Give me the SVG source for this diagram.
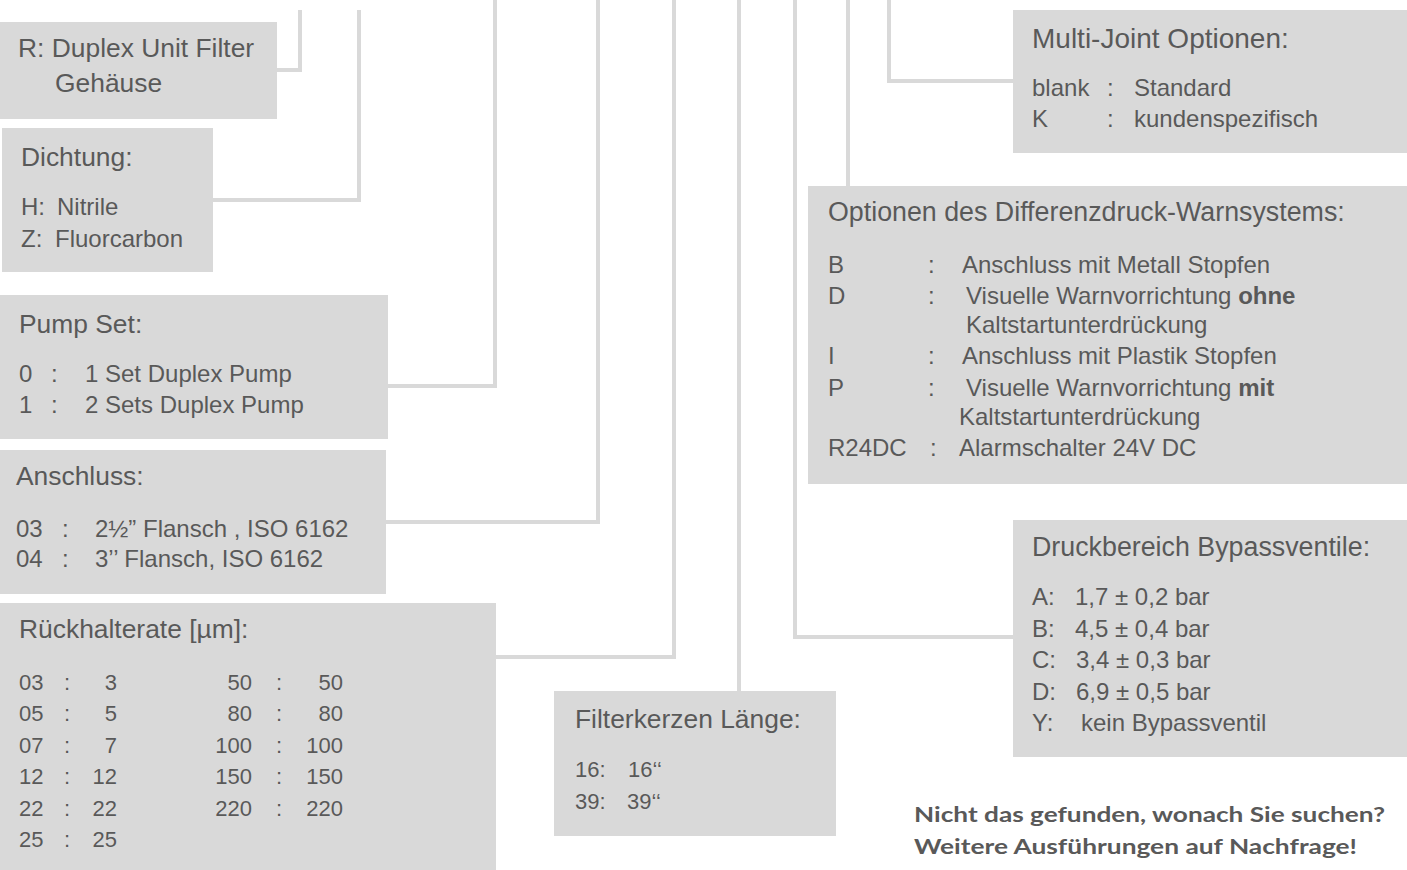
<svg xmlns="http://www.w3.org/2000/svg" width="1407" height="870" viewBox="0 0 1407 870">
<style>
.bx{fill:#d9d9d9}
.cn{fill:none;stroke:#d9d9d9;stroke-width:4}
text{font-family:"Liberation Sans",Arial,sans-serif;fill:#595959}
.h{font-size:26.4px}
.t{font-size:24px}
.s{font-size:22px}
.e{text-anchor:end}
.b{font-weight:bold}
.nt{font-family:Lato,"Open Sans",sans-serif;font-weight:bold;font-size:21px}
</style>
<rect width="1407" height="870" fill="#ffffff"/>
<g id="connectors">
<path class="cn" d="M300,10 V70 H277"/>
<path class="cn" d="M359,10 V200 H213"/>
<path class="cn" d="M495,0 V386 H388"/>
<path class="cn" d="M598,0 V522 H386"/>
<path class="cn" d="M674,0 V657 H496"/>
<path class="cn" d="M739,0 V691"/>
<path class="cn" d="M795,0 V637 H1013"/>
<path class="cn" d="M848,0 V186"/>
<path class="cn" d="M889,0 V81 H1013"/>
</g>
<g id="node-gehaeuse">
<rect class="bx" x="0" y="22" width="277" height="97"/>
<text class="h" x="18" y="57">R: Duplex Unit Filter</text>
<text class="h" x="55" y="92">Gehäuse</text>
</g>
<g id="node-dichtung">
<rect class="bx" x="2" y="128" width="211" height="144"/>
<text class="h" x="21" y="166">Dichtung:</text>
<text class="t" x="21" y="215">H:</text><text class="t" x="57" y="215">Nitrile</text>
<text class="t" x="21" y="247">Z:</text><text class="t" x="55" y="247">Fluorcarbon</text>
</g>
<g id="node-pumpset">
<rect class="bx" x="0" y="295" width="388" height="144"/>
<text class="h" x="19" y="333">Pump Set:</text>
<text class="t" x="19" y="382">0</text><text class="t" x="51" y="382">:</text><text class="t" x="85" y="382">1 Set Duplex Pump</text>
<text class="t" x="19" y="413">1</text><text class="t" x="51" y="413">:</text><text class="t" x="85" y="413">2 Sets Duplex Pump</text>
</g>
<g id="node-anschluss">
<rect class="bx" x="0" y="450" width="386" height="144"/>
<text class="h" x="16" y="485">Anschluss:</text>
<text class="t" x="16" y="537">03</text><text class="t" x="62" y="537">:</text><text class="t" x="95" y="537">2½” Flansch , ISO 6162</text>
<text class="t" x="16" y="567">04</text><text class="t" x="62" y="567">:</text><text class="t" x="95" y="567">3’’ Flansch, ISO 6162</text>
</g>
<g id="node-rueckhalterate">
<rect class="bx" x="0" y="603" width="496" height="267"/>
<text class="h" x="19" y="638">Rückhalterate [µm]:</text>
<text class="s" x="19" y="690">03</text><text class="s" x="64" y="690">:</text><text class="s e" x="117" y="690">3</text>
<text class="s" x="19" y="721">05</text><text class="s" x="64" y="721">:</text><text class="s e" x="117" y="721">5</text>
<text class="s" x="19" y="753">07</text><text class="s" x="64" y="753">:</text><text class="s e" x="117" y="753">7</text>
<text class="s" x="19" y="784">12</text><text class="s" x="64" y="784">:</text><text class="s e" x="117" y="784">12</text>
<text class="s" x="19" y="816">22</text><text class="s" x="64" y="816">:</text><text class="s e" x="117" y="816">22</text>
<text class="s" x="19" y="847">25</text><text class="s" x="64" y="847">:</text><text class="s e" x="117" y="847">25</text>
<text class="s e" x="252" y="690">50</text><text class="s" x="276" y="690">:</text><text class="s e" x="343" y="690">50</text>
<text class="s e" x="252" y="721">80</text><text class="s" x="276" y="721">:</text><text class="s e" x="343" y="721">80</text>
<text class="s e" x="252" y="753">100</text><text class="s" x="276" y="753">:</text><text class="s e" x="343" y="753">100</text>
<text class="s e" x="252" y="784">150</text><text class="s" x="276" y="784">:</text><text class="s e" x="343" y="784">150</text>
<text class="s e" x="252" y="816">220</text><text class="s" x="276" y="816">:</text><text class="s e" x="343" y="816">220</text>
</g>
<g id="node-filterkerzen">
<rect class="bx" x="554" y="691" width="282" height="145"/>
<text class="h" x="575" y="728">Filterkerzen Länge:</text>
<text class="s" x="575" y="777">16:</text><text class="s" x="628" y="777">16‘‘</text>
<text class="s" x="575" y="809">39:</text><text class="s" x="627" y="809">39‘‘</text>
</g>
<g id="node-multijoint">
<rect class="bx" x="1013" y="10" width="394" height="143"/>
<text class="h" x="1032" y="48" style="font-size:28px">Multi-Joint Optionen:</text>
<text class="t" x="1032" y="96">blank</text><text class="t" x="1107" y="96">:</text><text class="t" x="1134" y="96">Standard</text>
<text class="t" x="1032" y="127">K</text><text class="t" x="1107" y="127">:</text><text class="t" x="1134" y="127">kundenspezifisch</text>
</g>
<g id="node-differenzdruck">
<rect class="bx" x="808" y="186" width="599" height="298"/>
<text class="h" x="828" y="221" style="font-size:26.8px">Optionen des Differenzdruck-Warnsystems:</text>
<text class="t" x="828" y="273">B</text><text class="t" x="928" y="273">:</text><text class="t" x="962" y="273">Anschluss mit Metall Stopfen</text>
<text class="t" x="828" y="304">D</text><text class="t" x="928" y="304">:</text><text class="t" x="966" y="304">Visuelle Warnvorrichtung <tspan class="b">ohne</tspan></text>
<text class="t" x="966" y="333">Kaltstartunterdrückung</text>
<text class="t" x="828" y="364">I</text><text class="t" x="928" y="364">:</text><text class="t" x="962" y="364">Anschluss mit Plastik Stopfen</text>
<text class="t" x="828" y="396">P</text><text class="t" x="928" y="396">:</text><text class="t" x="966" y="396">Visuelle Warnvorrichtung <tspan class="b">mit</tspan></text>
<text class="t" x="959" y="425">Kaltstartunterdrückung</text>
<text class="t" x="828" y="456">R24DC</text><text class="t" x="930" y="456">:</text><text class="t" x="959" y="456">Alarmschalter 24V DC</text>
</g>
<g id="node-druckbereich">
<rect class="bx" x="1013" y="520" width="394" height="237"/>
<text class="h" x="1032" y="556" style="font-size:26.8px">Druckbereich Bypassventile:</text>
<text class="t" x="1032" y="605">A:</text><text class="t" x="1075" y="605">1,7 ± 0,2 bar</text>
<text class="t" x="1032" y="637">B:</text><text class="t" x="1075" y="637">4,5 ± 0,4 bar</text>
<text class="t" x="1032" y="668">C:</text><text class="t" x="1076" y="668">3,4 ± 0,3 bar</text>
<text class="t" x="1032" y="700">D:</text><text class="t" x="1076" y="700">6,9 ± 0,5 bar</text>
<text class="t" x="1032" y="731">Y:</text><text class="t" x="1081" y="731">kein Bypassventil</text>
</g>
<g id="note">
<text class="nt" x="914" y="822" textLength="471" lengthAdjust="spacingAndGlyphs">Nicht das gefunden, wonach Sie suchen?</text>
<text class="nt" x="914" y="854" textLength="443" lengthAdjust="spacingAndGlyphs">Weitere Ausführungen auf Nachfrage!</text>
</g>
</svg>
